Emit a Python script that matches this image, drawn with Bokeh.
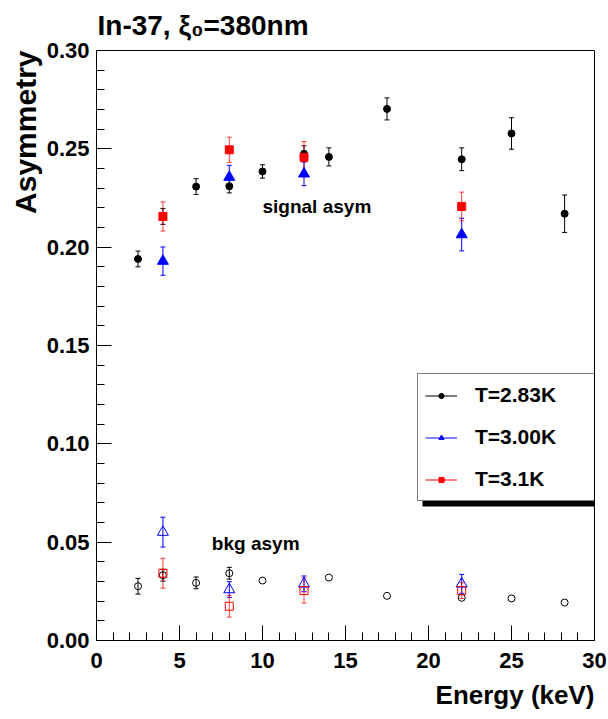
import numpy as np
from bokeh.plotting import figure
from bokeh.models import (ColumnDataSource, Whisker, TeeHead, Label, Legend, LegendItem,
                          FixedTicker, NumeralTickFormatter, Range1d, BoxAnnotation, Title)
from bokeh.embed import file_html
from bokeh.resources import INLINE

FONT = "Liberation Sans"

# ---------------- data ----------------
energy_283 = [2.5, 4, 6, 8, 10, 12.5, 14, 17.5, 22, 25, 28.2]
sig_283 = [0.194, 0.2156, 0.2308, 0.231, 0.2385, 0.2475, 0.2459, 0.2703, 0.2447, 0.2578, 0.217]
sig_err_283 = [0.004, 0.004, 0.004, 0.0034, 0.0034, 0.004, 0.0046, 0.0056, 0.0058, 0.008, 0.0095]

energy_bkg_283 = [2.5, 4, 6, 8, 10, 14, 17.5, 22, 25, 28.2]
bkg_283 = [0.0276, 0.0332, 0.0293, 0.0342, 0.0305, 0.032, 0.0227, 0.0217, 0.0214, 0.0193]
bkg_err_283 = [0.004, 0.003, 0.003, 0.003, 0.001, 0.001, 0.001, 0.001, 0.001, 0.001]

energy_300 = [4, 8, 12.5, 22]
sig_300 = [0.1929, 0.2356, 0.2373, 0.2064]
sig_err_300 = [0.0072, 0.006, 0.006, 0.0083]
bkg_300 = [0.0551, 0.0259, 0.0288, 0.0288]
bkg_err_300 = [0.0076, 0.004, 0.004, 0.0048]

energy_31 = [4, 8, 12.5, 22]
sig_31 = [0.2156, 0.2495, 0.2457, 0.2207]
sig_err_31 = [0.0074, 0.0064, 0.008, 0.0073]
bkg_31 = [0.0342, 0.0174, 0.0254, 0.0254]
bkg_err_31 = [0.0076, 0.0055, 0.0063, 0.004]

x_ticks = [0, 5, 10, 15, 20, 25, 30]
x_minor = list(range(0, 31))
y_ticks = [0.0, 0.05, 0.10, 0.15, 0.20, 0.25, 0.30]
y_minor = [round(i * 0.01, 2) for i in range(31)]

labels = ["T=2.83K", "T=3.00K", "T=3.1K"]

# ---------------- figure ----------------
p = figure(width=608, height=719, output_backend="svg", toolbar_location=None,
           x_range=Range1d(0, 30), y_range=Range1d(0, 0.30), title=None,
           min_border_left=96, min_border_right=14, min_border_top=50, min_border_bottom=79)
p.grid.visible = False
p.outline_line_color = "black"
p.outline_line_width = 1
p.background_fill_color = "white"
p.border_fill_color = "white"

for ax in (p.xaxis[0], p.yaxis[0]):
    ax.major_tick_in = 15
    ax.major_tick_out = 0
    ax.minor_tick_in = 8
    ax.minor_tick_out = 0
    ax.axis_line_color = "black"
    ax.major_tick_line_color = "black"
    ax.minor_tick_line_color = "black"
    ax.major_label_text_font = FONT
    ax.major_label_text_font_style = "bold"
    ax.major_label_text_font_size = "22px"
    ax.major_label_text_color = "black"
p.xaxis.ticker = FixedTicker(ticks=x_ticks, minor_ticks=x_minor)
p.yaxis.ticker = FixedTicker(ticks=y_ticks, minor_ticks=y_minor)
p.yaxis.formatter = NumeralTickFormatter(format="0.00")
p.xaxis.major_label_standoff = 12
p.yaxis.major_label_standoff = 7


def add_err(x, y, e, color, alpha=1.0, min_err=0.002):
    xs, lo, hi = [], [], []
    for xi, yi, ei in zip(x, y, e):
        if ei >= min_err:
            xs.append(xi); lo.append(yi - ei); hi.append(yi + ei)
    src = ColumnDataSource(dict(x=xs, lo=lo, hi=hi))
    w = Whisker(base="x", lower="lo", upper="hi", source=src, dimension="height",
                line_color=color, line_alpha=alpha, line_width=1,
                upper_head=TeeHead(size=5, line_color=color, line_alpha=alpha, line_width=1),
                lower_head=TeeHead(size=5, line_color=color, line_alpha=alpha, line_width=1))
    p.add_layout(w)


# error bars
add_err(energy_283, sig_283, sig_err_283, "black")
add_err(energy_bkg_283, bkg_283, bkg_err_283, "black")
add_err(energy_300, sig_300, sig_err_300, "blue")
add_err(energy_300, bkg_300, bkg_err_300, "blue")
add_err(energy_31, sig_31, sig_err_31, "red", 0.75)
add_err(energy_31, bkg_31, bkg_err_31, "red", 0.75)

# markers
r283 = p.scatter(energy_283, sig_283, marker="circle", size=7, color="black")
p.scatter(energy_bkg_283, bkg_283, marker="circle", size=7, fill_color=None,
          line_color="black", line_width=1)
r300 = p.scatter(energy_300, sig_300, marker="triangle", size=11, color="blue")
p.scatter(energy_300, bkg_300, marker="triangle", size=11, fill_color=None,
          line_color="blue", line_width=1)
r31 = p.scatter(energy_31, sig_31, marker="square", size=8, color="red")
p.scatter(energy_31, bkg_31, marker="square", size=8, fill_color=None,
          line_color="red", line_width=1)

# legend line glyphs (no visible data; only used for the legend symbol)
l283 = p.line([np.nan], [np.nan], line_color="black", line_width=1)
l300 = p.line([np.nan], [np.nan], line_color="blue", line_width=1)
l31 = p.line([np.nan], [np.nan], line_color="red", line_width=1)

# text annotations in data space
p.add_layout(Label(x=10.0, y=0.2207, text="signal asym", text_font=FONT, text_font_style="bold",
                   text_font_size="19px", text_baseline="alphabetic", text_color="black"))
p.add_layout(Label(x=6.95, y=0.0493, text="bkg asym", text_font=FONT, text_font_style="bold",
                   text_font_size="19px", text_baseline="alphabetic", text_color="black"))

# legend shadow + legend
shadow = BoxAnnotation(left=326, right=510, bottom=134, top=260,
                       left_units="screen", right_units="screen",
                       bottom_units="screen", top_units="screen",
                       fill_color="black", fill_alpha=1.0, line_color=None)
p.add_layout(shadow)

legend = Legend(items=[LegendItem(label=labels[0], renderers=[l283, r283]),
                       LegendItem(label=labels[1], renderers=[l300, r300]),
                       LegendItem(label=labels[2], renderers=[l31, r31])],
                location=(321, 139), padding=7, spacing=14, margin=0,
                glyph_width=32, glyph_height=13, label_height=28, label_width=121,
                label_standoff=18, label_text_font=FONT, label_text_font_style="bold",
                label_text_font_size="21px", label_text_color="black",
                border_line_color="black", border_line_width=1,
                background_fill_color="white", background_fill_alpha=1.0)
p.add_layout(legend, "center")

# plot title and axis titles
p.add_layout(Title(text="In-37, ξ₀=380nm", align="left", offset=1, standoff=15,
                   vertical_align="top",
                   text_font=FONT, text_font_style="bold", text_font_size="28px",
                   text_color="black"), "above")
p.add_layout(Title(text="Energy (keV)", align="right", standoff=14,
                   text_font=FONT, text_font_style="bold", text_font_size="26px",
                   text_color="black"), "below")
p.add_layout(Title(text="Asymmetry", align="right", standoff=4,
                   text_font=FONT, text_font_style="bold", text_font_size="30px",
                   text_color="black"), "left")

open("out.html", "w").write(file_html(p, INLINE))
